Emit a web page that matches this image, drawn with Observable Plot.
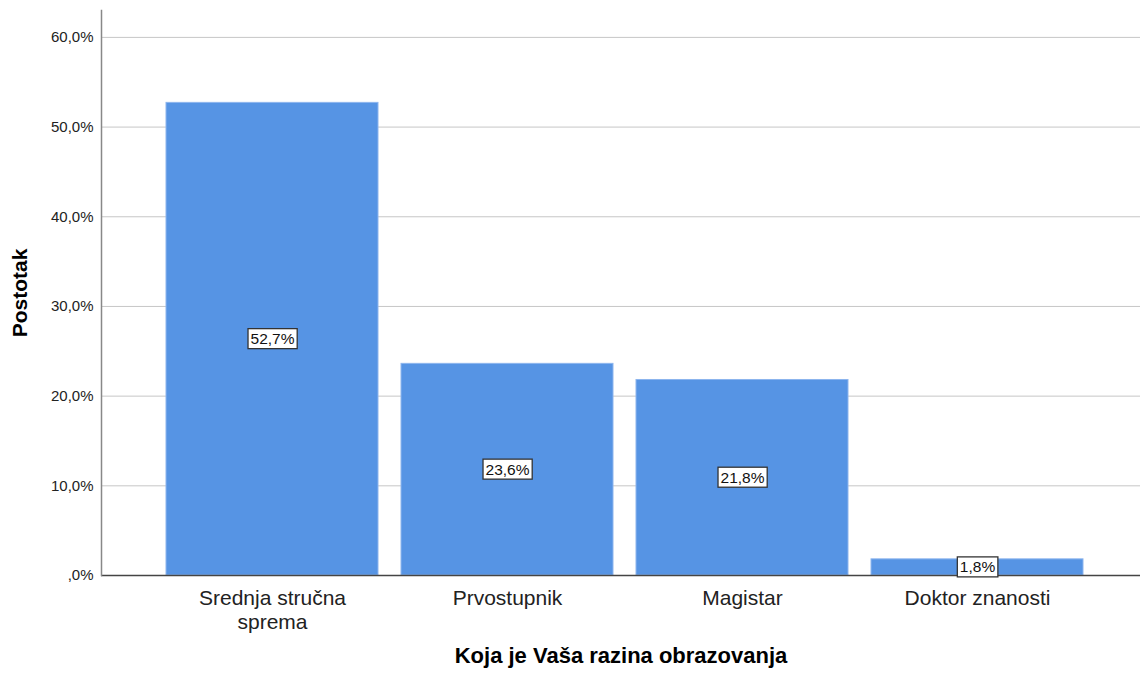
<!DOCTYPE html>
<html><head><meta charset="utf-8">
<script src="https://cdn.jsdelivr.net/npm/d3@7"></script>
<script src="https://cdn.jsdelivr.net/npm/@observablehq/plot@0.6"></script>
<style>body{margin:0;background:#fff}</style>
</head><body><div id="chart"></div>
<script>
const categories = ["Srednja stručna\nsprema", "Prvostupnik", "Magistar", "Doktor znanosti"];
const percents = [52.7, 23.6, 21.8, 1.8];
const yTicks = [0, 10, 20, 30, 40, 50, 60];
const xTitle = "Koja je Vaša razina obrazovanja";
const yTitle = "Postotak";

const data = categories.map((c, i) => ({category: c, value: percents[i]}));
const fmtTick = d => d === 0 ? ",0%" : d3.format(".1f")(d).replace(".", ",") + "%";
const fmtVal = d => d3.format(".1f")(d).replace(".", ",") + "%";

const chart = Plot.plot({
  width: 1140, height: 678,
  marginLeft: 101, marginRight: 0, marginTop: 10, marginBottom: 103,
  style: {fontFamily: "'Liberation Sans', Arial, sans-serif", background: "#fff", color: "#222"},
  x: {domain: categories, range: [165, 1083], paddingInner: 0.1, paddingOuter: 0, label: null},
  y: {domain: [0, 63], label: null},
  marks: [
    Plot.ruleY(yTicks.filter(d => d > 0), {stroke: "#c6c6c6", strokeWidth: 1}),
    Plot.barY(data, {x: "category", y: "value", fill: "#5694e4", stroke: "#8db5ee", strokeWidth: 1}),
    Plot.ruleY([0], {stroke: "#444", strokeWidth: 1.3}),
    Plot.frame({anchor: "left", stroke: "#888", strokeWidth: 1.5}),
    Plot.axisY({ticks: yTicks, tickFormat: fmtTick, tickSize: 0, tickPadding: 8, fontSize: 15, color: "#222", label: null}),
    Plot.axisX({tickSize: 0, tickPadding: 12, fontSize: 21, lineHeight: 1.15, color: "#222", label: null}),
    Plot.text(data, {x: "category", y: d => d.value / 2, text: d => fmtVal(d.value), fontSize: 15.5, fill: "#111", className: "vlabel"}),
    Plot.text([xTitle], {frameAnchor: "bottom", dy: 87, text: d => d, fontSize: 22, fontWeight: "bold", fill: "#000"}),
    Plot.text([yTitle], {frameAnchor: "left", dx: -81, rotate: -90, textAnchor: "middle", text: d => d, fontSize: 21, fontWeight: "bold", fill: "#000"})
  ]
});
document.getElementById("chart").appendChild(chart);

// white boxes behind value labels
chart.querySelectorAll(".vlabel text").forEach(t => {
  const b = t.getBBox();
  const r = document.createElementNS("http://www.w3.org/2000/svg", "rect");
  r.setAttribute("x", b.x - 2.5);
  r.setAttribute("y", b.y - 1.5);
  r.setAttribute("width", b.width + 5);
  r.setAttribute("height", b.height + 3);
  r.setAttribute("fill", "#fff");
  r.setAttribute("stroke", "#333");
  r.setAttribute("stroke-width", 1.3);
  const tr = t.getAttribute("transform");
  if (tr) r.setAttribute("transform", tr);
  t.parentNode.insertBefore(r, t);
});
</script>
</body></html>
